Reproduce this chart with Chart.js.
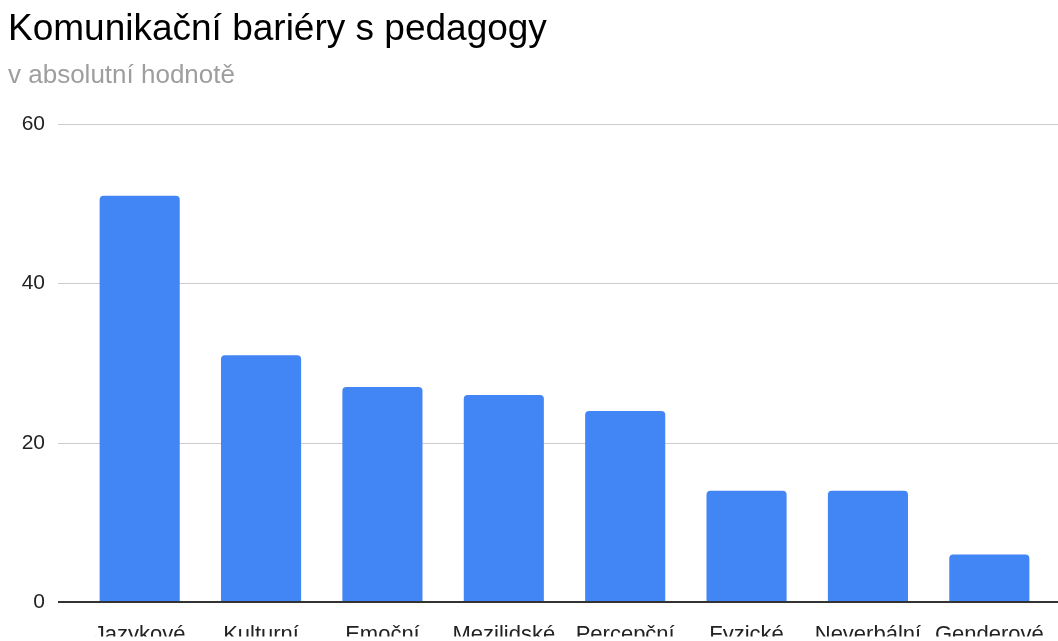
<!DOCTYPE html>
<html>
<head>
<meta charset="utf-8">
<script src="https://cdn.jsdelivr.net/npm/chart.js@4.4.1/dist/chart.umd.min.js"></script>
<style>
  html, body { margin: 0; padding: 0; background: #fff; overflow: hidden; }
</style>
</head>
<body>
<canvas id="myChart" width="1058" height="641"></canvas>
<script>
const categories = ['Jazykové', 'Kulturní', 'Emoční', 'Mezilidské', 'Percepční', 'Fyzické', 'Neverbální', 'Genderové'];
const values = [51, 31, 27, 26, 24, 14, 14, 6];
const yTicks = [0, 20, 40, 60];

const font = "'Liberation Sans', Arial, sans-serif";

// horizontal gridlines run wider than the bar area, like the original
const gridLines = {
  id: 'gridLines',
  beforeDatasetsDraw(chart) {
    const y = chart.scales.y;
    const ctx = chart.ctx;
    ctx.save();
    ctx.strokeStyle = '#cccccc';
    ctx.lineWidth = 1;
    yTicks.filter(v => v !== 0).forEach(v => {
      const py = Math.round(y.getPixelForValue(v)) + 0.5;
      ctx.beginPath();
      ctx.moveTo(chart.chartArea.left - 21, py);
      ctx.lineTo(chart.width, py);
      ctx.stroke();
    });
    ctx.restore();
  },
  afterDatasetsDraw(chart) {
    const y = chart.scales.y;
    const ctx = chart.ctx;
    const py = Math.round(y.getPixelForValue(0));
    ctx.save();
    ctx.strokeStyle = '#333333';
    ctx.lineWidth = 2;
    ctx.beginPath();
    ctx.moveTo(chart.chartArea.left - 21, py);
    ctx.lineTo(chart.width, py);
    ctx.stroke();
    ctx.restore();
  }
};

const ctx = document.getElementById('myChart');

new Chart(ctx, {
  type: 'bar',
  data: {
    labels: categories,
    datasets: [{
      data: values,
      backgroundColor: '#4285f4',
      borderRadius: 4,
      barPercentage: 0.66,
      categoryPercentage: 1
    }]
  },
  options: {
    responsive: false,
    animation: false,
    devicePixelRatio: 1,
    layout: { padding: { left: 8, right: 8, top: 0, bottom: 0 } },
    plugins: {
      legend: { display: false },
      tooltip: { enabled: false },
      title: {
        display: true,
        text: 'Komunikační bariéry s pedagogy',
        align: 'start',
        color: '#000',
        font: { family: font, size: 37, weight: 'normal', lineHeight: 1.2 },
        padding: { top: 8, bottom: 0 }
      },
      subtitle: {
        display: true,
        text: 'v absolutní hodnotě',
        align: 'start',
        color: '#9e9e9e',
        font: { family: font, size: 26, weight: 'normal', lineHeight: 1.2 },
        padding: { top: 8, bottom: 32.4 }
      }
    },
    scales: {
      x: {
        grid: { display: false },
        border: { display: false },
        ticks: {
          color: '#222',
          padding: 11,
          maxRotation: 0,
          autoSkip: false,
          font: { family: font, size: 22 }
        },
        afterFit(scale) { scale.height = 34; }
      },
      y: {
        min: 0,
        max: 60,
        grid: { display: false },
        border: { display: false },
        ticks: {
          stepSize: 20,
          color: '#222',
          padding: 26,
          font: { family: font, size: 21 }
        },
        afterFit(scale) { scale.width = 71; }
      }
    }
  },
  plugins: [gridLines]
});
</script>
</body>
</html>
